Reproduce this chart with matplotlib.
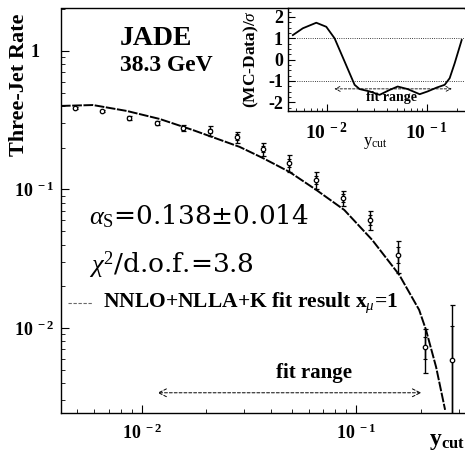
import numpy as np
from matplotlib import pyplot as plt
from matplotlib.transforms import ScaledTranslation
from matplotlib.ticker import FixedLocator, FixedFormatter, LogLocator, NullFormatter, MultipleLocator

# donnees
ycut = [0.00488, 0.00651, 0.00869, 0.01174, 0.0155, 0.0207, 0.0277, 0.0366,
        0.0488, 0.0652, 0.0869, 0.116, 0.157, 0.209, 0.279]
rate = [0.388, 0.369, 0.328, 0.302, 0.278, 0.265, 0.239, 0.196,
        0.155, 0.117, 0.0868, 0.0602, 0.0337, 0.0073, 0.00587]
err_tot = [0.006, 0.008, 0.010, 0.012, 0.015, 0.020, 0.022, 0.022,
           0.021, 0.016, 0.011, 0.0095, 0.0088, 0.0026, 0.0088]
err_stat = [0.003, 0.004, 0.005, 0.006, 0.008, 0.010, 0.011, 0.011,
            0.010, 0.008, 0.006, 0.005, 0.0045, 0.0013, 0.0045]

# courbe NNLO+NLLA+K
fit_x = [0.00420, 0.00592, 0.00851, 0.01211, 0.01726, 0.02858, 0.03656, 0.04875,
         0.06516, 0.08790, 0.1186, 0.1585, 0.1963, 0.2113, 0.2355, 0.2594]
fit_y = [0.401, 0.407, 0.369, 0.323, 0.269, 0.203, 0.169, 0.134,
         0.0991, 0.0711, 0.0432, 0.0242, 0.0135, 0.00968, 0.00522, 0.00256]

# encart (MC-Data)/sigma
ins_x = [0.00460, 0.00579, 0.00789, 0.00993, 0.01202, 0.01514, 0.01905, 0.02138,
         0.02692, 0.03388, 0.04266, 0.05129, 0.06457, 0.08511, 0.1023, 0.1259,
         0.1514, 0.1698, 0.1905, 0.2239]
ins_y = [1.15, 1.47, 1.73, 1.54, 1.0, -0.09, -1.18, -1.38, -1.49, -1.65,
         -1.42, -1.26, -1.38, -1.62, -1.49, -1.31, -1.18, -0.87, -0.17, 0.92]

fit_lo, fit_hi = 0.0115, 0.207

plt.rcParams['font.family'] = ['Liberation Serif', 'DejaVu Serif']
plt.rcParams['mathtext.fontset'] = 'custom'
plt.rcParams['mathtext.rm'] = 'Liberation Serif'
plt.rcParams['mathtext.it'] = 'Liberation Serif:italic'
plt.rcParams['mathtext.bf'] = 'Liberation Serif:bold'

fig = plt.figure(figsize=(4.65, 4.58), dpi=100)
ax = fig.add_axes([0.131, 0.0983, 0.867, 0.884])

ax.set_xscale('log')
ax.set_yscale('log')
ax.set_xlim(0.0042, 0.318)
ax.set_ylim(0.00243, 2.04)

ax.errorbar(ycut, rate, yerr=err_tot, fmt='o', ms=3.2, mfc='white', mec='black',
            mew=0.9, ecolor='black', elinewidth=1.0, capsize=1.8, capthick=0.8, zorder=3)
ax.errorbar(ycut, rate, yerr=err_stat, fmt='none', ecolor='black',
            elinewidth=1.0, capsize=1.6, capthick=0.8, zorder=3)
ax.plot(fit_x, fit_y, color='black', lw=1.4, ls=(0, (5, 0.8)), zorder=2)

# axes
for s in ax.spines.values():
    s.set_linestyle((0, (3, 1)))
    s.set_linewidth(1.0)
ax.spines['right'].set_visible(False)
ax.tick_params(which='both', direction='in', top=False, right=False)
ax.tick_params(which='major', length=6, pad=5)
ax.tick_params(which='minor', length=3)
ax.xaxis.set_major_locator(FixedLocator([0.01, 0.1]))
ax.xaxis.set_major_formatter(FixedFormatter([r'$\mathbf{10^{\ -2}}$', r'$\mathbf{10^{\ -1}}$']))
ax.xaxis.set_minor_locator(LogLocator(subs=np.arange(2, 10)))
ax.xaxis.set_minor_formatter(NullFormatter())
ax.yaxis.set_major_locator(FixedLocator([0.01, 0.1, 1]))
ax.yaxis.set_major_formatter(FixedFormatter([r'$\mathbf{10^{\ -2}}$', r'$\mathbf{10^{\ -1}}$',
                                             r'$\mathbf{1}$']))
ax.yaxis.set_minor_locator(LogLocator(subs=np.arange(2, 10)))
ax.yaxis.set_minor_formatter(NullFormatter())
for lab in ax.get_xticklabels() + ax.get_yticklabels():
    lab.set_fontsize(13)
ax.xaxis.set_tick_params(pad=8)
# le "1" est aligne sur le "10" des autres etiquettes
t1 = ax.yaxis.get_major_ticks()[2].label1
t1.set_transform(t1.get_transform() + ScaledTranslation(-10 / 72, 0, fig.dpi_scale_trans))

fig.text(0.041, 0.815, 'Three-Jet Rate', rotation=90, fontsize=16, fontweight='bold',
         ha='center', va='center')
fig.text(0.962, 0.035, r'$\mathbf{y}_{\mathbf{cut}}$', fontsize=17, ha='center', va='center')

# textes
ax.text(0.146, 0.925, 'JADE', transform=ax.transAxes, fontsize=20, fontweight='bold', va='center')
ax.text(0.146, 0.859, '38.3 GeV', transform=ax.transAxes, fontsize=17, fontweight='bold', va='center')
ax.text(0.07, 0.465, r'$\alpha_{\mathrm{S}}$=0.138±0.014', transform=ax.transAxes,
        fontsize=19, va='baseline', family='DejaVu Serif')
ax.text(0.07, 0.345, r'$\chi^{2}$/d.o.f.=3.8', transform=ax.transAxes,
        fontsize=19, va='baseline', family='DejaVu Serif')
ax.plot([0.017, 0.077], [0.272, 0.272], transform=ax.transAxes, color='dimgray',
        lw=0.8, ls=(0, (3, 1.5)))
ax.text(0.104, 0.272, r'NNLO+NLLA+K fit result x$_{\mu}$=1', transform=ax.transAxes,
        fontsize=15.5, fontweight='bold', va='center')

ax.annotate('', xy=(fit_lo, 0.0034), xytext=(fit_hi, 0.0034),
            arrowprops=dict(arrowstyle='<->', ls=(0, (3, 2)), lw=0.7, color='black',
                            mutation_scale=14))
ax.text(0.0638, 0.0047, 'fit range', fontsize=15, fontweight='bold', ha='center', va='center')

# encart
ai = fig.add_axes([0.619, 0.758, 0.378, 0.2245])
ai.set_xscale('log')
ai.set_xlim(0.0041, 0.234)
ai.set_ylim(-2.4, 2.42)
ai.plot(ins_x, ins_y, color='black', lw=1.3)
ai.axhline(1, color='black', lw=0.6, ls=':')
ai.axhline(-1, color='black', lw=0.6, ls=':')
ai.annotate('', xy=(0.0112, -1.37), xytext=(0.19, -1.37),
            arrowprops=dict(arrowstyle='<->', ls=(0, (3, 2)), lw=0.6, color='black',
                            mutation_scale=9))
ai.text(0.045, -1.78, 'fit range', fontsize=10, fontweight='bold', ha='center', va='center')
for s in ai.spines.values():
    s.set_linestyle((0, (3, 1)))
    s.set_linewidth(1.0)
ai.spines['right'].set_visible(False)
ai.tick_params(which='both', direction='in', top=False, right=False, labelsize=13)
ai.tick_params(which='major', length=5)
ai.tick_params(which='minor', length=2.5)
ai.xaxis.set_major_locator(FixedLocator([0.01, 0.1]))
ai.xaxis.set_major_formatter(FixedFormatter([r'$\mathbf{10^{\ -2}}$', r'$\mathbf{10^{\ -1}}$']))
ai.xaxis.set_minor_locator(LogLocator(subs=np.arange(2, 10)))
ai.xaxis.set_minor_formatter(NullFormatter())
ai.xaxis.set_tick_params(pad=8)
for lab in ai.get_xticklabels():
    lab.set_fontsize(14)
ai.yaxis.set_major_locator(MultipleLocator(1))
ai.yaxis.set_minor_locator(MultipleLocator(0.25))
ai.set_yticks([-2, -1, 0, 1, 2])
ai.set_yticklabels(['-2', '-1', '0', '1', '2'], fontweight='bold')
ai.set_ylabel(r'(MC-Data)/$\sigma$', fontsize=12.5, fontweight='bold', labelpad=5)
ai.set_xlabel(r'y$_{\mathrm{cut}}$', fontsize=12, labelpad=-6)

plt.savefig('out.png', dpi=100)
